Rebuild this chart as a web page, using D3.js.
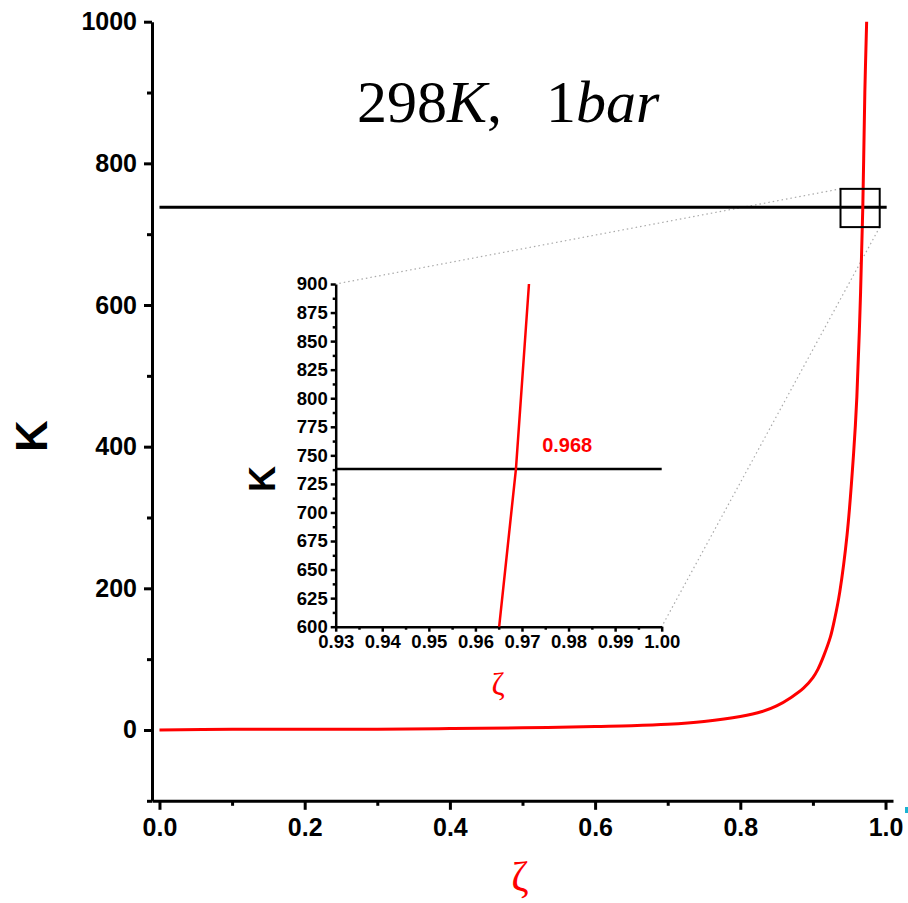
<!DOCTYPE html>
<html>
<head>
<meta charset="utf-8">
<script src="https://cdn.jsdelivr.net/npm/d3@7"></script>
<style>
  body { margin: 0; background: #fff; }
  .axis text { font-family: "Liberation Sans", Arial, sans-serif; font-weight: bold; fill: #000; }
  .axis path, .axis line { stroke: #000; }
</style>
</head>
<body>
<script>
// values
var zeta = [0, 0.1, 0.2, 0.3, 0.4, 0.5, 0.6, 0.65, 0.7, 0.75, 0.8, 0.83, 0.85, 0.87, 0.887, 0.9, 0.907, 0.915, 0.924, 0.93, 0.937, 0.947, 0.956, 0.9605, 0.9651, 0.9687, 0.9715, 0.974];
var kVal = [0, 1, 1, 1, 2, 3, 5, 6, 8, 12, 19, 26, 34, 46, 59, 74, 86, 105, 131, 157, 195, 275, 390, 470, 600, 738, 900, 1000];
var kLine = 738;
var rootLabel = "0.968";
var zoomBox = { z0: 0.938, z1: 0.992, k0: 710, k1: 764 };

var mainXTicks = [0, 0.2, 0.4, 0.6, 0.8, 1.0];
var mainXMinor = [0.1, 0.3, 0.5, 0.7, 0.9];
var mainYTicks = [0, 200, 400, 600, 800, 1000];
var mainYMinor = [-100, 100, 300, 500, 700, 900];
var insetXTicks = [0.93, 0.94, 0.95, 0.96, 0.97, 0.98, 0.99, 1.00];
var insetXMinor = [0.935, 0.945, 0.955, 0.965, 0.975, 0.985, 0.995];
var insetYTicks = [600, 625, 650, 675, 700, 725, 750, 775, 800, 825, 850, 875, 900];
var insetYMinor = [612.5, 637.5, 662.5, 687.5, 712.5, 737.5, 762.5, 787.5, 812.5, 837.5, 862.5, 887.5];

var data = zeta.map(function(z, i) { return { z: z, k: kVal[i] }; });

var w = 908, h = 903;
var svg = d3.select("body").append("svg")
  .attr("width", w).attr("height", h);

// main scales
var x = d3.scaleLinear().domain([-0.0103, 1.0103]).range([152, 893]);
var y = d3.scaleLinear().domain([-100, 1000]).range([800.8, 21.7]);

// inset scales
var xi = d3.scaleLinear().domain([0.93, 1.00]).range([335.7, 661.7]);
var yi = d3.scaleLinear().domain([600, 900]).range([626.7, 284]);

// dotted connectors
svg.append("line")
  .attr("x1", x(zoomBox.z0)).attr("y1", y(zoomBox.k1))
  .attr("x2", xi(0.93)).attr("y2", yi(900))
  .attr("stroke", "#aaa").attr("stroke-width", 1.2).attr("stroke-dasharray", "1.5,3");
svg.append("line")
  .attr("x1", x(zoomBox.z1)).attr("y1", y(zoomBox.k0))
  .attr("x2", xi(1.00)).attr("y2", yi(600))
  .attr("stroke", "#aaa").attr("stroke-width", 1.2).attr("stroke-dasharray", "1.5,3");

// main axes
var gx = svg.append("g").attr("class", "axis")
  .attr("transform", "translate(0," + y(-100) + ")")
  .call(d3.axisBottom(x).tickValues(mainXTicks).tickSize(9).tickSizeOuter(0).tickPadding(8)
    .tickFormat(d3.format(".1f")));
gx.selectAll("text").style("font-size", "25px");
svg.append("g").attr("class", "axis")
  .attr("transform", "translate(0," + y(-100) + ")")
  .call(d3.axisBottom(x).tickValues(mainXMinor).tickSize(5).tickSizeOuter(0).tickFormat(""))
  .select(".domain").remove();

var gy = svg.append("g").attr("class", "axis")
  .attr("transform", "translate(" + x(-0.0103) + ",0)")
  .call(d3.axisLeft(y).tickValues(mainYTicks).tickSize(8).tickSizeOuter(0).tickPadding(7)
    .tickFormat(d3.format("d")));
gy.selectAll("text").style("font-size", "25px");
svg.append("g").attr("class", "axis")
  .attr("transform", "translate(" + x(-0.0103) + ",0)")
  .call(d3.axisLeft(y).tickValues(mainYMinor).tickSize(5).tickSizeOuter(0).tickFormat(""))
  .select(".domain").remove();

svg.selectAll(".axis path, .axis line").attr("stroke-width", 3);

// main horizontal line
svg.append("line")
  .attr("x1", x(0)).attr("x2", x(1.0016))
  .attr("y1", y(kLine)).attr("y2", y(kLine))
  .attr("stroke", "#000").attr("stroke-width", 3);

// main curve
var line = d3.line()
  .x(function(d) { return x(d.z); })
  .y(function(d) { return y(d.k); })
  .curve(d3.curveCatmullRom.alpha(0.5));
svg.append("path").datum(data)
  .attr("d", line)
  .attr("fill", "none").attr("stroke", "#ff0000").attr("stroke-width", 3);

// zoom box
svg.append("rect")
  .attr("x", x(zoomBox.z0)).attr("y", y(zoomBox.k1))
  .attr("width", x(zoomBox.z1) - x(zoomBox.z0))
  .attr("height", y(zoomBox.k0) - y(zoomBox.k1))
  .attr("fill", "none").attr("stroke", "#000").attr("stroke-width", 2);

// inset axes
var ix = svg.append("g").attr("class", "axis inset")
  .attr("transform", "translate(0," + yi(600) + ")")
  .call(d3.axisBottom(xi).tickValues(insetXTicks).tickSize(5).tickSizeOuter(0).tickPadding(3)
    .tickFormat(d3.format(".2f")));
ix.selectAll("text").style("font-size", "18.5px");
svg.append("g").attr("class", "axis inset")
  .attr("transform", "translate(0," + yi(600) + ")")
  .call(d3.axisBottom(xi).tickValues(insetXMinor).tickSize(3).tickSizeOuter(0).tickFormat(""))
  .select(".domain").remove();

var iy = svg.append("g").attr("class", "axis inset")
  .attr("transform", "translate(" + xi(0.93) + ",0)")
  .call(d3.axisLeft(yi).tickValues(insetYTicks).tickSize(5).tickSizeOuter(0).tickPadding(3));
iy.selectAll("text").style("font-size", "18.5px");
svg.append("g").attr("class", "axis inset")
  .attr("transform", "translate(" + xi(0.93) + ",0)")
  .call(d3.axisLeft(yi).tickValues(insetYMinor).tickSize(3).tickSizeOuter(0).tickFormat(""))
  .select(".domain").remove();

svg.selectAll(".inset path, .inset line").attr("stroke-width", 2.5);

// inset horizontal line
svg.append("line")
  .attr("x1", xi(0.93)).attr("x2", xi(1.00))
  .attr("y1", yi(kLine)).attr("y2", yi(kLine))
  .attr("stroke", "#000").attr("stroke-width", 2.5);

// inset curve
var insetData = data.filter(function(d) { return d.k >= 600 && d.k <= 900; });
svg.append("path").datum(insetData)
  .attr("d", d3.line()
    .x(function(d) { return xi(d.z); })
    .y(function(d) { return yi(d.k); }))
  .attr("fill", "none").attr("stroke", "#ff0000").attr("stroke-width", 2.5);

svg.append("text")
  .attr("x", xi(0.9797)).attr("y", yi(753))
  .attr("text-anchor", "middle")
  .style("font-family", "Liberation Sans, Arial, sans-serif")
  .style("font-weight", "bold").style("font-size", "20px")
  .attr("fill", "#ff0000")
  .text(rootLabel);

// axis titles
svg.append("text")
  .attr("transform", "translate(47,436) rotate(-90)")
  .attr("text-anchor", "middle")
  .style("font-family", "Liberation Sans, Arial, sans-serif")
  .style("font-weight", "bold").style("font-size", "44px")
  .text("K");
svg.append("text")
  .attr("transform", "translate(275,479) rotate(-90)")
  .attr("text-anchor", "middle")
  .style("font-family", "Liberation Sans, Arial, sans-serif")
  .style("font-weight", "bold").style("font-size", "36px")
  .text("K");

svg.append("text")
  .attr("x", 520).attr("y", 891)
  .attr("text-anchor", "middle")
  .style("font-family", "Liberation Serif, serif")
  .style("font-size", "42px")
  .attr("fill", "#ff0000")
  .text("ζ");
svg.append("text")
  .attr("x", 498).attr("y", 695)
  .attr("text-anchor", "middle")
  .style("font-family", "Liberation Serif, serif")
  .style("font-size", "32px")
  .attr("fill", "#ff0000")
  .text("ζ");

// title
var title = svg.append("text")
  .attr("x", 357).attr("y", 122)
  .style("font-family", "Liberation Serif, serif")
  .style("font-size", "60px");
title.append("tspan").text("298");
title.append("tspan").style("font-style", "italic").text("K");
title.append("tspan").text(",");
title.append("tspan").attr("dx", 44).text("1");
title.append("tspan").style("font-style", "italic").text("bar");

// small cyan mark at the right edge
svg.append("rect")
  .attr("x", 905).attr("y", 807).attr("width", 3).attr("height", 6)
  .attr("fill", "#1ab4d4");
</script>
</body>
</html>
